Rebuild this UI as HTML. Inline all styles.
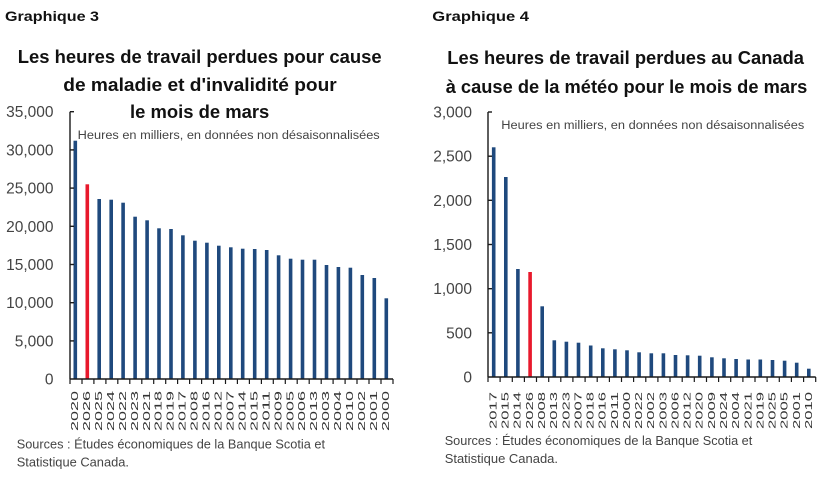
<!DOCTYPE html>
<html>
<head>
<meta charset="utf-8">
<style>
  html, body { margin: 0; padding: 0; background: #ffffff; }
  body { width: 828px; height: 483px; overflow: hidden; }
  svg { display: block; }
  text { font-family: "Liberation Sans", "DejaVu Sans", sans-serif; }
  .hd { font-weight: bold; fill: #111; }
  .ttl { font-weight: bold; fill: #111; }
  .sub { fill: #444; }
  .yl { fill: #444; font-size: 15.5px; }
  .xl { fill: #333; font-size: 10.5px; }
  .src { fill: #444; font-size: 13px; }
</style>
</head>
<body>
<svg width="828" height="483" viewBox="0 0 828 483" xmlns="http://www.w3.org/2000/svg">
  <rect width="828" height="483" fill="#fff"/>

  <!-- ============ LEFT CHART ============ -->
  <text class="hd" x="5" y="21" font-size="13.5" textLength="94" lengthAdjust="spacingAndGlyphs">Graphique 3</text>
  <text class="ttl" x="17.7" y="63" font-size="18.5" textLength="364" lengthAdjust="spacingAndGlyphs">Les heures de travail perdues pour cause</text>
  <text class="ttl" x="63.3" y="91" font-size="18.5" textLength="273.4" lengthAdjust="spacingAndGlyphs">de maladie et d'invalidité pour</text>
  <text class="ttl" x="130" y="118" font-size="18.5" textLength="139.3" lengthAdjust="spacingAndGlyphs">le mois de mars</text>
  <text class="sub" x="77.7" y="139" font-size="11.5" textLength="302" lengthAdjust="spacingAndGlyphs">Heures en milliers, en données non désaisonnalisées</text>

  <g id="lefty"></g>
  <g id="leftbars"></g>
  <g id="leftx"></g>

  <text class="src" x="16.7" y="448.5" textLength="308.3" lengthAdjust="spacingAndGlyphs">Sources : Études économiques de la Banque Scotia et</text>
  <text class="src" x="16.7" y="466.5" textLength="112.3" lengthAdjust="spacingAndGlyphs">Statistique Canada.</text>

  <!-- ============ RIGHT CHART ============ -->
  <text class="hd" x="432.3" y="21" font-size="13.5" textLength="96.7" lengthAdjust="spacingAndGlyphs">Graphique 4</text>
  <text class="ttl" x="447.3" y="64" font-size="18.5" textLength="356.7" lengthAdjust="spacingAndGlyphs">Les heures de travail perdues au Canada</text>
  <text class="ttl" x="445.7" y="93" font-size="18.5" textLength="361.6" lengthAdjust="spacingAndGlyphs">à cause de la météo pour le mois de mars</text>
  <text class="sub" x="501.3" y="129" font-size="11.5" textLength="303" lengthAdjust="spacingAndGlyphs">Heures en milliers, en données non désaisonnalisées</text>

  <text class="src" x="444.7" y="445" textLength="307.6" lengthAdjust="spacingAndGlyphs">Sources : Études économiques de la Banque Scotia et</text>
  <text class="src" x="444.7" y="463" textLength="113.3" lengthAdjust="spacingAndGlyphs">Statistique Canada.</text>

  <!-- LEFT: y tick labels -->
  <text class="yl" x="53.5" y="117.2" text-anchor="end">35,000</text>
  <text class="yl" x="53.5" y="155.4" text-anchor="end">30,000</text>
  <text class="yl" x="53.5" y="193.6" text-anchor="end">25,000</text>
  <text class="yl" x="53.5" y="231.8" text-anchor="end">20,000</text>
  <text class="yl" x="53.5" y="270.0" text-anchor="end">15,000</text>
  <text class="yl" x="53.5" y="308.2" text-anchor="end">10,000</text>
  <text class="yl" x="53.5" y="346.4" text-anchor="end">5,000</text>
  <text class="yl" x="53.5" y="384.5" text-anchor="end">0</text>

  <!-- LEFT: bars -->
  <g fill="#1f497d">
    <rect x="73.5" y="140.7" width="3.6" height="238.3"/>
    <rect x="97.4" y="199" width="3.6" height="180"/>
    <rect x="109.4" y="199.7" width="3.6" height="179.3"/>
    <rect x="121.3" y="202.7" width="3.6" height="176.3"/>
    <rect x="133.3" y="216.7" width="3.6" height="162.3"/>
    <rect x="145.3" y="220.3" width="3.6" height="158.7"/>
    <rect x="157.2" y="228.3" width="3.6" height="150.7"/>
    <rect x="169.2" y="229" width="3.6" height="150"/>
    <rect x="181.1" y="235.3" width="3.6" height="143.7"/>
    <rect x="193.1" y="240.7" width="3.6" height="138.3"/>
    <rect x="205.1" y="242.7" width="3.6" height="136.3"/>
    <rect x="217.0" y="245.7" width="3.6" height="133.3"/>
    <rect x="229.0" y="247.3" width="3.6" height="131.7"/>
    <rect x="240.9" y="248.7" width="3.6" height="130.3"/>
    <rect x="252.9" y="249" width="3.6" height="130"/>
    <rect x="264.9" y="250" width="3.6" height="129"/>
    <rect x="276.8" y="255.3" width="3.6" height="123.7"/>
    <rect x="288.8" y="258.7" width="3.6" height="120.3"/>
    <rect x="300.7" y="259.7" width="3.6" height="119.3"/>
    <rect x="312.7" y="259.7" width="3.6" height="119.3"/>
    <rect x="324.7" y="265" width="3.6" height="114"/>
    <rect x="336.6" y="267" width="3.6" height="112"/>
    <rect x="348.6" y="267.7" width="3.6" height="111.3"/>
    <rect x="360.5" y="275" width="3.6" height="104"/>
    <rect x="372.5" y="278" width="3.6" height="101"/>
    <rect x="384.5" y="298.3" width="3.6" height="80.7"/>
  </g>
  <rect x="85.5" y="184.3" width="3.6" height="194.7" fill="#e8192c"/>

  <!-- LEFT: axes -->
  <g stroke="#1a1a1a" stroke-width="1.4" fill="none">
    <line x1="70" y1="111.7" x2="70" y2="379"/>
    <line x1="70" y1="379" x2="393" y2="379"/>
    <line x1="70" y1="111.7" x2="74" y2="111.7"/>
    <line x1="70" y1="149.9" x2="74" y2="149.9"/>
    <line x1="70" y1="188.1" x2="74" y2="188.1"/>
    <line x1="70" y1="226.3" x2="74" y2="226.3"/>
    <line x1="70" y1="264.5" x2="74" y2="264.5"/>
    <line x1="70" y1="302.7" x2="74" y2="302.7"/>
    <line x1="70" y1="340.9" x2="74" y2="340.9"/>
  </g>
  <g stroke="#1a1a1a" stroke-width="1.2">
    <line x1="70" y1="379" x2="70" y2="384"/>
    <line x1="82" y1="379" x2="82" y2="384"/>
    <line x1="93.9" y1="379" x2="93.9" y2="384"/>
    <line x1="105.9" y1="379" x2="105.9" y2="384"/>
    <line x1="117.8" y1="379" x2="117.8" y2="384"/>
    <line x1="129.8" y1="379" x2="129.8" y2="384"/>
    <line x1="141.8" y1="379" x2="141.8" y2="384"/>
    <line x1="153.7" y1="379" x2="153.7" y2="384"/>
    <line x1="165.7" y1="379" x2="165.7" y2="384"/>
    <line x1="177.6" y1="379" x2="177.6" y2="384"/>
    <line x1="189.6" y1="379" x2="189.6" y2="384"/>
    <line x1="201.6" y1="379" x2="201.6" y2="384"/>
    <line x1="213.5" y1="379" x2="213.5" y2="384"/>
    <line x1="225.5" y1="379" x2="225.5" y2="384"/>
    <line x1="237.4" y1="379" x2="237.4" y2="384"/>
    <line x1="249.4" y1="379" x2="249.4" y2="384"/>
    <line x1="261.4" y1="379" x2="261.4" y2="384"/>
    <line x1="273.3" y1="379" x2="273.3" y2="384"/>
    <line x1="285.3" y1="379" x2="285.3" y2="384"/>
    <line x1="297.2" y1="379" x2="297.2" y2="384"/>
    <line x1="309.2" y1="379" x2="309.2" y2="384"/>
    <line x1="321.2" y1="379" x2="321.2" y2="384"/>
    <line x1="333.1" y1="379" x2="333.1" y2="384"/>
    <line x1="345.1" y1="379" x2="345.1" y2="384"/>
    <line x1="357" y1="379" x2="357" y2="384"/>
    <line x1="369" y1="379" x2="369" y2="384"/>
    <line x1="381" y1="379" x2="381" y2="384"/>
    <line x1="393" y1="379" x2="393" y2="384"/>
  </g>

  <!-- LEFT: x labels -->
  <g class="xl" text-anchor="end">
    <text transform="translate(78,391) rotate(-90)" textLength="40" lengthAdjust="spacingAndGlyphs">2020</text>
    <text transform="translate(90,391) rotate(-90)" textLength="40" lengthAdjust="spacingAndGlyphs">2026</text>
    <text transform="translate(101.9,391) rotate(-90)" textLength="40" lengthAdjust="spacingAndGlyphs">2025</text>
    <text transform="translate(113.9,391) rotate(-90)" textLength="40" lengthAdjust="spacingAndGlyphs">2024</text>
    <text transform="translate(125.8,391) rotate(-90)" textLength="40" lengthAdjust="spacingAndGlyphs">2022</text>
    <text transform="translate(137.8,391) rotate(-90)" textLength="40" lengthAdjust="spacingAndGlyphs">2023</text>
    <text transform="translate(149.8,391) rotate(-90)" textLength="40" lengthAdjust="spacingAndGlyphs">2021</text>
    <text transform="translate(161.7,391) rotate(-90)" textLength="40" lengthAdjust="spacingAndGlyphs">2018</text>
    <text transform="translate(173.7,391) rotate(-90)" textLength="40" lengthAdjust="spacingAndGlyphs">2019</text>
    <text transform="translate(185.6,391) rotate(-90)" textLength="40" lengthAdjust="spacingAndGlyphs">2017</text>
    <text transform="translate(197.6,391) rotate(-90)" textLength="40" lengthAdjust="spacingAndGlyphs">2008</text>
    <text transform="translate(209.6,391) rotate(-90)" textLength="40" lengthAdjust="spacingAndGlyphs">2016</text>
    <text transform="translate(221.5,391) rotate(-90)" textLength="40" lengthAdjust="spacingAndGlyphs">2012</text>
    <text transform="translate(233.5,391) rotate(-90)" textLength="40" lengthAdjust="spacingAndGlyphs">2007</text>
    <text transform="translate(245.4,391) rotate(-90)" textLength="40" lengthAdjust="spacingAndGlyphs">2014</text>
    <text transform="translate(257.4,391) rotate(-90)" textLength="40" lengthAdjust="spacingAndGlyphs">2015</text>
    <text transform="translate(269.4,391) rotate(-90)" textLength="40" lengthAdjust="spacingAndGlyphs">2011</text>
    <text transform="translate(281.3,391) rotate(-90)" textLength="40" lengthAdjust="spacingAndGlyphs">2009</text>
    <text transform="translate(293.3,391) rotate(-90)" textLength="40" lengthAdjust="spacingAndGlyphs">2005</text>
    <text transform="translate(305.2,391) rotate(-90)" textLength="40" lengthAdjust="spacingAndGlyphs">2006</text>
    <text transform="translate(317.2,391) rotate(-90)" textLength="40" lengthAdjust="spacingAndGlyphs">2013</text>
    <text transform="translate(329.2,391) rotate(-90)" textLength="40" lengthAdjust="spacingAndGlyphs">2003</text>
    <text transform="translate(341.1,391) rotate(-90)" textLength="40" lengthAdjust="spacingAndGlyphs">2004</text>
    <text transform="translate(353.1,391) rotate(-90)" textLength="40" lengthAdjust="spacingAndGlyphs">2010</text>
    <text transform="translate(365,391) rotate(-90)" textLength="40" lengthAdjust="spacingAndGlyphs">2002</text>
    <text transform="translate(377,391) rotate(-90)" textLength="40" lengthAdjust="spacingAndGlyphs">2001</text>
    <text transform="translate(389,391) rotate(-90)" textLength="40" lengthAdjust="spacingAndGlyphs">2000</text>
  </g>

  <!-- RIGHT: y tick labels -->
  <text class="yl" x="472" y="117.5" text-anchor="end">3,000</text>
  <text class="yl" x="472" y="161.7" text-anchor="end">2,500</text>
  <text class="yl" x="472" y="205.8" text-anchor="end">2,000</text>
  <text class="yl" x="472" y="250.0" text-anchor="end">1,500</text>
  <text class="yl" x="472" y="294.2" text-anchor="end">1,000</text>
  <text class="yl" x="472" y="338.3" text-anchor="end">500</text>
  <text class="yl" x="472" y="382.5" text-anchor="end">0</text>

  <!-- RIGHT: bars -->
  <g fill="#1f497d">
    <rect x="491.9" y="147.3" width="3.6" height="229.7"/>
    <rect x="504.0" y="177" width="3.6" height="200"/>
    <rect x="516.1" y="269" width="3.6" height="108"/>
    <rect x="540.4" y="306.3" width="3.6" height="70.7"/>
    <rect x="552.5" y="340.3" width="3.6" height="36.7"/>
    <rect x="564.6" y="341.7" width="3.6" height="35.3"/>
    <rect x="576.7" y="342.7" width="3.6" height="34.3"/>
    <rect x="588.9" y="345.5" width="3.6" height="31.5"/>
    <rect x="601.0" y="348.3" width="3.6" height="28.7"/>
    <rect x="613.1" y="349.3" width="3.6" height="27.7"/>
    <rect x="625.2" y="350.3" width="3.6" height="26.7"/>
    <rect x="637.3" y="352.3" width="3.6" height="24.7"/>
    <rect x="649.5" y="353.3" width="3.6" height="23.7"/>
    <rect x="661.6" y="353.3" width="3.6" height="23.7"/>
    <rect x="673.7" y="355" width="3.6" height="22"/>
    <rect x="685.8" y="355.3" width="3.6" height="21.7"/>
    <rect x="697.9" y="355.7" width="3.6" height="21.3"/>
    <rect x="710.1" y="357.3" width="3.6" height="19.7"/>
    <rect x="722.2" y="358.3" width="3.6" height="18.7"/>
    <rect x="734.3" y="359" width="3.6" height="18"/>
    <rect x="746.4" y="359.5" width="3.6" height="17.5"/>
    <rect x="758.5" y="359.5" width="3.6" height="17.5"/>
    <rect x="770.7" y="360" width="3.6" height="17"/>
    <rect x="782.8" y="360.7" width="3.6" height="16.3"/>
    <rect x="794.9" y="362.7" width="3.6" height="14.3"/>
    <rect x="807.0" y="368.7" width="3.6" height="8.3"/>
  </g>
  <rect x="528.3" y="272" width="3.6" height="105" fill="#e8192c"/>

  <!-- RIGHT: axes -->
  <g stroke="#1a1a1a" stroke-width="1.4" fill="none">
    <line x1="488" y1="112" x2="488" y2="377"/>
    <line x1="488" y1="377" x2="815.7" y2="377"/>
    <line x1="488" y1="112" x2="492" y2="112"/>
    <line x1="488" y1="156.2" x2="492" y2="156.2"/>
    <line x1="488" y1="200.3" x2="492" y2="200.3"/>
    <line x1="488" y1="244.5" x2="492" y2="244.5"/>
    <line x1="488" y1="288.7" x2="492" y2="288.7"/>
    <line x1="488" y1="332.8" x2="492" y2="332.8"/>
  </g>
  <g stroke="#1a1a1a" stroke-width="1.2">
    <line x1="488" y1="377" x2="488" y2="382"/>
    <line x1="500.1" y1="377" x2="500.1" y2="382"/>
    <line x1="512.3" y1="377" x2="512.3" y2="382"/>
    <line x1="524.4" y1="377" x2="524.4" y2="382"/>
    <line x1="536.5" y1="377" x2="536.5" y2="382"/>
    <line x1="548.7" y1="377" x2="548.7" y2="382"/>
    <line x1="560.8" y1="377" x2="560.8" y2="382"/>
    <line x1="572.9" y1="377" x2="572.9" y2="382"/>
    <line x1="585.1" y1="377" x2="585.1" y2="382"/>
    <line x1="597.2" y1="377" x2="597.2" y2="382"/>
    <line x1="609.4" y1="377" x2="609.4" y2="382"/>
    <line x1="621.5" y1="377" x2="621.5" y2="382"/>
    <line x1="633.6" y1="377" x2="633.6" y2="382"/>
    <line x1="645.8" y1="377" x2="645.8" y2="382"/>
    <line x1="657.9" y1="377" x2="657.9" y2="382"/>
    <line x1="670" y1="377" x2="670" y2="382"/>
    <line x1="682.2" y1="377" x2="682.2" y2="382"/>
    <line x1="694.3" y1="377" x2="694.3" y2="382"/>
    <line x1="706.5" y1="377" x2="706.5" y2="382"/>
    <line x1="718.6" y1="377" x2="718.6" y2="382"/>
    <line x1="730.7" y1="377" x2="730.7" y2="382"/>
    <line x1="742.9" y1="377" x2="742.9" y2="382"/>
    <line x1="755" y1="377" x2="755" y2="382"/>
    <line x1="767.1" y1="377" x2="767.1" y2="382"/>
    <line x1="779.3" y1="377" x2="779.3" y2="382"/>
    <line x1="791.4" y1="377" x2="791.4" y2="382"/>
    <line x1="803.6" y1="377" x2="803.6" y2="382"/>
    <line x1="815.7" y1="377" x2="815.7" y2="382"/>
  </g>

  <!-- RIGHT: x labels -->
  <g class="xl" text-anchor="end" style="font-size:10px">
    <text transform="translate(496.5,392) rotate(-90)" textLength="37" lengthAdjust="spacingAndGlyphs">2017</text>
    <text transform="translate(508.6,392) rotate(-90)" textLength="37" lengthAdjust="spacingAndGlyphs">2015</text>
    <text transform="translate(520.7,392) rotate(-90)" textLength="37" lengthAdjust="spacingAndGlyphs">2014</text>
    <text transform="translate(532.9,392) rotate(-90)" textLength="37" lengthAdjust="spacingAndGlyphs">2026</text>
    <text transform="translate(545,392) rotate(-90)" textLength="37" lengthAdjust="spacingAndGlyphs">2008</text>
    <text transform="translate(557.1,392) rotate(-90)" textLength="37" lengthAdjust="spacingAndGlyphs">2013</text>
    <text transform="translate(569.3,392) rotate(-90)" textLength="37" lengthAdjust="spacingAndGlyphs">2023</text>
    <text transform="translate(581.4,392) rotate(-90)" textLength="37" lengthAdjust="spacingAndGlyphs">2007</text>
    <text transform="translate(593.5,392) rotate(-90)" textLength="37" lengthAdjust="spacingAndGlyphs">2018</text>
    <text transform="translate(605.7,392) rotate(-90)" textLength="37" lengthAdjust="spacingAndGlyphs">2016</text>
    <text transform="translate(617.8,392) rotate(-90)" textLength="37" lengthAdjust="spacingAndGlyphs">2011</text>
    <text transform="translate(629.9,392) rotate(-90)" textLength="37" lengthAdjust="spacingAndGlyphs">2000</text>
    <text transform="translate(642.1,392) rotate(-90)" textLength="37" lengthAdjust="spacingAndGlyphs">2022</text>
    <text transform="translate(654.2,392) rotate(-90)" textLength="37" lengthAdjust="spacingAndGlyphs">2002</text>
    <text transform="translate(666.3,392) rotate(-90)" textLength="37" lengthAdjust="spacingAndGlyphs">2003</text>
    <text transform="translate(678.5,392) rotate(-90)" textLength="37" lengthAdjust="spacingAndGlyphs">2006</text>
    <text transform="translate(690.6,392) rotate(-90)" textLength="37" lengthAdjust="spacingAndGlyphs">2012</text>
    <text transform="translate(702.7,392) rotate(-90)" textLength="37" lengthAdjust="spacingAndGlyphs">2020</text>
    <text transform="translate(714.9,392) rotate(-90)" textLength="37" lengthAdjust="spacingAndGlyphs">2009</text>
    <text transform="translate(727,392) rotate(-90)" textLength="37" lengthAdjust="spacingAndGlyphs">2024</text>
    <text transform="translate(739.1,392) rotate(-90)" textLength="37" lengthAdjust="spacingAndGlyphs">2004</text>
    <text transform="translate(751.3,392) rotate(-90)" textLength="37" lengthAdjust="spacingAndGlyphs">2021</text>
    <text transform="translate(763.4,392) rotate(-90)" textLength="37" lengthAdjust="spacingAndGlyphs">2019</text>
    <text transform="translate(775.5,392) rotate(-90)" textLength="37" lengthAdjust="spacingAndGlyphs">2025</text>
    <text transform="translate(787.7,392) rotate(-90)" textLength="37" lengthAdjust="spacingAndGlyphs">2005</text>
    <text transform="translate(799.8,392) rotate(-90)" textLength="37" lengthAdjust="spacingAndGlyphs">2001</text>
    <text transform="translate(811.9,392) rotate(-90)" textLength="37" lengthAdjust="spacingAndGlyphs">2010</text>
  </g>
</svg>
</body>
</html>
